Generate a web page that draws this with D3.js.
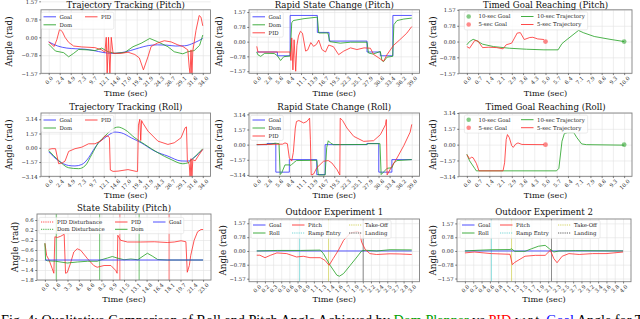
<!DOCTYPE html>
<html>
<head>
<meta charset="utf-8">
<script src="https://cdn.jsdelivr.net/npm/d3@7"></script>
<style>
	body { margin: 0; background: #fff; }
	svg { display: block; }
</style>
</head>
<body>
<svg id="fig" width="640" height="319"></svg>
<script>
/*
*    Roll / pitch comparison figure, 3x3 panels
*/

// x tick labels (matplotlib linspace ticks, already rounded)
var ticks34 = ["0.0","2.4","4.9","7.3","9.7","12.1","14.6","17.0","19.4","21.9","24.3","26.7","29.1","31.6","34.0"];
var ticks39 = ["0.0","2.8","5.6","8.4","11.1","13.9","16.7","19.5","22.3","25.1","27.9","30.6","33.4","36.2","39.0"];
var ticks10 = ["0.0","0.7","1.4","2.1","2.9","3.6","4.3","5.0","5.7","6.4","7.1","7.9","8.6","9.3","10.0"];
var ticks23 = ["0.0","1.6","3.3","4.9","6.6","8.2","9.9","11.5","13.1","14.8","16.4","18.1","19.7","21.4","23.0"];
var ticks3  = ["0.0","0.2","0.3","0.5","0.6","0.8","0.9","1.1","1.3","1.4","1.6","1.7","1.9","2.1","2.2","2.4","2.5","2.7","2.8","3.0"];
var ticks4  = ["0.0","0.2","0.4","0.6","0.8","1.1","1.3","1.5","1.7","1.9","2.1","2.3","2.5","2.7","2.9","3.2","3.4","3.6","3.8","4.0"];

// y tick values
var yHalfPi = [-1.57, -0.78, 0, 0.78, 1.57];
var yPi = [-3.14, -1.57, 0, 1.57, 3.14];
var yStab = [-1.8, -1.4, -1.0, -0.6, -0.2, 0.2, 0.6];

// Trajectory Tracking (Pitch)  [t, rad]
var ttPitchGoal = [[0,-0.2],[2,-0.38],[4,-0.47],[6,-0.5],[8,-0.52],[10,-0.58],[12,-0.66],[14,-0.7],[16,-0.67],[18,-0.58],[20,-0.46],[22,-0.36],[24,-0.33],[26,-0.34],[28,-0.38],[30,-0.37],[32,-0.25],[34,-0.05]];
var ttPitchDom = [[0,-0.3],[1.5,-0.6],[3.3,-0.67],[4.4,-0.85],[5.5,-0.7],[6.6,-0.53],[8.8,-0.55],[10.2,-0.58],[11.7,-0.47],[13.1,-0.63],[14.6,-0.7],[16.8,-0.66],[18.6,-0.41],[20.4,-0.26],[22.3,-0.05],[24,-0.19],[26.3,-0.41],[27.7,-0.63],[29.6,-0.72],[30.7,-0.63],[32.1,-0.58],[33.3,-0.35],[34,0.1]];
var ttPitchPid = [[0,-0.2],[1.2,-0.4],[1.8,-0.1],[2.4,0.35],[3.0,0.25],[3.6,0.0],[4.4,-0.22],[5.5,-0.38],[7.3,-0.42],[10.2,-0.45],[11.7,-0.55],[12.4,-0.65],[12.7,0.0],[12.9,-1.6],[13.2,0.0],[13.5,-1.6],[13.8,0.0],[14.2,-0.7],[16,-0.7],[17.5,-0.65],[19,-0.75],[20,-0.9],[20.9,-1.42],[21.9,-0.85],[22.6,-0.4],[24,-0.25],[25.5,-0.15],[27,-0.2],[28.5,-0.33],[29.6,-0.4],[30.7,-0.55],[31.0,-1.3],[31.2,-1.6],[31.4,-0.55],[31.6,-1.6],[31.8,-0.6],[32.5,0.3],[33.2,0.95],[33.6,0.88],[34,0.5]];

// Rapid State Change (Pitch)
var rscPitchGoal = [[0,-0.55],[5.2,-0.55],[5.2,-0.75],[8.4,-0.75],[8.4,1.39],[15.25,1.39],[15.25,0.49],[18.2,0.49],[18.2,0.03],[27.75,0.03],[27.75,-0.55],[31.1,-0.55],[31.1,-0.75],[34.25,-0.75],[34.25,1.39],[39,1.39]];
var rscPitchDom = [[0,-0.55],[0.3,-0.7],[1,-0.78],[2,-0.62],[4.4,-0.63],[5.2,-0.75],[6.0,-1.0],[6.8,-0.8],[8.4,-0.76],[8.8,1.0],[9.2,1.12],[11.9,1.22],[15.25,1.3],[15.6,0.46],[17.9,0.46],[18.4,0.0],[21,-0.08],[23.6,-0.03],[27.75,-0.03],[28.1,-0.6],[29.3,-0.66],[31.1,-0.52],[31.5,-1.0],[31.9,-1.06],[32.8,-0.82],[34.2,-0.78],[34.5,0.9],[35.3,1.12],[37,1.2],[39,1.25]];
var rscPitchPid = [[0,-0.25],[0.3,-0.55],[8.4,-0.55],[8.6,-1.0],[8.8,0.2],[9.1,-1.5],[9.4,0.1],[9.8,-1.57],[10.1,-0.2],[10.5,0.3],[11.0,0.55],[11.5,0.45],[12.3,-0.5],[12.8,-0.45],[13.6,-0.05],[14.3,-0.25],[15.0,-0.15],[15.6,0.08],[16.4,-0.42],[17.3,-0.55],[18.1,-0.18],[19.3,-0.27],[20.6,-0.69],[21.9,-0.5],[23.6,-0.33],[25.2,-0.42],[27,-0.33],[28.6,-0.35],[29.4,-0.68],[30.7,-0.86],[31.9,-1.04],[32.75,-0.7],[34.4,-0.2],[36,0.1],[37.75,0.45],[39,0.8]];

// Timed Goal Reaching (Pitch)
var tgPitch10 = [[0,-0.16],[0.17,0],[0.4,0.11],[0.6,0.05],[1.0,-0.13],[1.7,-0.25],[2.7,-0.33],[3.8,-0.38],[4.9,-0.41],[5.8,-0.41],[6.05,-0.1],[6.3,0.06],[7.0,0.49],[7.1,0.55],[7.4,0.44],[8.1,0.25],[9.1,0.11],[10,0]];
var tgPitch5 = [[0,-0.25],[0.17,-0.33],[0.5,0.05],[0.7,0.03],[1.0,-0.3],[1.4,-0.28],[1.9,-0.3],[2.3,-0.36],[2.5,-0.16],[2.85,-0.08],[3.2,0.42],[3.4,0.44],[3.65,0.1],[4.0,0.2],[4.2,0.21],[4.5,0.13],[4.9,0.1]];
var tgPitchGoals = [[10,0],[5,0]];

// Trajectory Tracking (Roll)
var ttRollGoal = [[0,-0.44],[2.2,-1.45],[4.4,-1.95],[5.8,-2.0],[7.3,-1.84],[8.8,-1.1],[9.8,-0.3],[10.9,0.5],[12.4,1.1],[13.5,1.5],[14.6,1.73],[16,1.65],[18.2,1.1],[20.4,0.55],[23.4,-0.37],[26.3,-0.92],[29.2,-1.45],[30.7,-1.47],[32,-1.1],[34,-0.18]];
var ttRollDom = [[0,-0.3],[2.2,-1.4],[4.4,-2.2],[6.6,-2.3],[8,-2.0],[9.5,-0.74],[10.9,0.5],[12.4,1.29],[14.6,2.2],[15.3,2.28],[16.8,2.0],[19,1.1],[21.2,0.37],[24.1,-0.55],[27,-1.29],[29.6,-1.76],[30.7,-1.66],[32,-1.1],[34,-0.1]];
var ttRollPid = [[0,-0.18],[0.7,-0.1],[1.5,-0.1],[2.2,-1.76],[3.0,-1.66],[3.6,-1.47],[4.4,-0.4],[5.8,-0.1],[7.3,0.07],[8.8,0.44],[10.2,0.44],[11.7,0.81],[12.4,1.29],[13.1,1.29],[13.4,1.1],[13.6,-2.45],[14.2,-2.6],[15.3,-2.57],[17.5,-2.4],[19.3,-2.6],[19.6,-2.6],[19.8,2.5],[20.1,3.14],[20.3,0.8],[20.5,3.0],[20.8,2.7],[21.9,1.84],[24.1,0.73],[26.3,0.37],[27.7,0.55],[29.2,1.1],[30.1,2.2],[30.4,2.3],[30.6,-1.47],[31.0,-1.8],[31.2,-3.2],[31.4,-1.2],[31.6,-3.2],[31.8,-1.3],[32.3,-1.45],[33,-0.9],[34,-0.18]];

// Rapid State Change (Roll)
var rscRollGoal = [[0,0],[2.6,0],[2.6,0.12],[4.8,0.12],[4.8,-2.85],[8.2,-2.85],[8.2,-1.55],[15.1,-1.55],[15.1,-3.1],[17.2,-3.1],[17.2,0],[27.7,0],[27.7,0.12],[30.7,0.12],[30.7,-2.85],[34,-2.85],[34,-1.55],[39,-1.55]];
var rscRollDom = [[0,0],[3.5,0.05],[4.6,0.15],[5.6,0.1],[5.9,-3.1],[6.3,-2.9],[7.1,-2.1],[8.2,-2.1],[8.6,-2.15],[9.2,-1.9],[10,-1.65],[15.1,-1.62],[15.5,-3.14],[17.2,-3.14],[17.6,-0.3],[18.0,0.4],[18.6,0.15],[19.3,0],[27.7,0.02],[28.1,0.1],[31.0,0.1],[31.3,-3.1],[32.0,-2.8],[32.8,-2.45],[34.0,-2.4],[34.5,-1.9],[35.3,-1.65],[39,-1.55]];
var rscRollPid = [[0,0],[6.5,0.05],[7.1,0.18],[7.7,0.1],[8.2,-1.38],[8.8,-1.7],[9.2,-0.8],[9.7,1.72],[10.0,2.4],[10.6,2.5],[11.8,2.25],[12.6,2.4],[13.3,2.75],[13.5,0.5],[13.7,-3.14],[14.3,-3.05],[15.1,-2.4],[16.8,-1.72],[18,-1.65],[18.9,-1.9],[20.2,-2.6],[20.9,-3.14],[21.0,2.75],[21.6,2.5],[22.7,1.72],[24.4,0.86],[26.9,0.34],[29.4,0.41],[31.1,1.03],[32.4,2.07],[32.6,2.6],[32.8,-3.14],[34,-2.24],[35.3,-1.38],[37,-0.1],[38.6,1.3],[39,2.1]];

// Timed Goal Reaching (Roll)
var tgRoll10 = [[0,-0.95],[0.17,-1.6],[0.5,-2.36],[0.6,-2.6],[5.7,-2.6],[5.85,-2.35],[6.05,0.34],[6.2,1.1],[6.4,1.19],[6.8,1.19],[7.0,0.68],[7.3,0.07],[7.6,0],[10,-0.05]];
var tgRoll5 = [[0,-1.0],[0.17,-1.4],[0.3,-1.25],[0.4,-1.3],[0.6,-1.85],[0.77,-2.6],[2.3,-2.6],[2.4,-1.8],[2.5,0.5],[2.58,1.0],[2.7,0.7],[2.85,-0.1],[2.95,-0.27],[3.1,0.05],[3.25,0.17],[3.5,0.02],[4.9,0]];
var tgRollGoals = [[10,0],[5,0]];

// State Stability (Pitch)
var ssGoal = [[0,-1.0],[23,-1.0]];
var ssDom = [[0,-0.33],[0.1,-1.0],[0.35,-1.03],[1.55,-1.05],[3.25,-1.12],[4.7,-1.08],[6.2,-1.05],[7.6,-1.05],[8.1,-1.0],[9.1,-0.92],[9.8,-0.86],[10.5,-0.92],[11.5,-0.99],[12.5,-0.96],[13.5,-0.99],[14.4,-0.82],[14.9,-0.73],[15.6,-0.84],[16.4,-0.98],[17.8,-1.0],[23,-1.0]];
var ssPid = [[0,-0.33],[0.25,-0.82],[0.6,-1.0],[1.07,-1.35],[1.3,-1.53],[1.45,-0.07],[1.8,-0.1],[2.3,-0.05],[2.8,0.03],[3.0,-1.53],[3.25,-1.5],[3.7,-1.15],[4.2,-0.68],[4.7,-0.55],[5.2,-0.61],[6.2,-0.95],[7.1,-1.22],[7.6,-1.29],[8.6,-1.22],[9.6,-1.22],[10.3,-1.42],[10.5,-1.53],[10.6,-0.01],[11.0,-0.21],[12.0,-0.28],[13.9,-0.28],[15.9,-0.27],[17.8,-0.3],[18.8,-0.28],[19.8,-0.23],[20.5,-0.27],[20.7,-1.49],[21.0,-1.22],[21.2,-0.82],[21.7,-0.21],[22.2,0.13],[22.7,0.22],[23,0.22]];
var ssPidDisturb = [10.9, 18.05];
var ssDomDisturb = [1.65, 7.96, 13.7];

// Outdoor Experiment 1
var od1Goal = [[0,0],[3,0]];
var od1Roll = [[0,0],[0.4,0.03],[0.85,0.03],[1.23,0.05],[1.29,-0.15],[1.42,-0.81],[1.55,-1.37],[1.6,-1.43],[1.68,-1.28],[1.81,-0.81],[1.94,-0.34],[2.03,0],[2.1,0.04],[2.32,0],[2.58,0.07],[3,0.06]];
var od1Pitch = [[0,-0.24],[0.06,-0.24],[0.16,-0.38],[0.26,-0.25],[0.39,-0.11],[0.58,-0.15],[0.77,-0.34],[0.9,-0.3],[1.03,-0.38],[1.23,-0.38],[1.32,-0.53],[1.4,-0.81],[1.48,-0.43],[1.58,0.04],[1.68,0.6],[1.81,1.01],[1.94,1.11],[1.99,1.05],[2.03,0.5],[2.1,0.08],[2.19,-0.15],[2.32,-0.2],[2.58,-0.16],[2.77,-0.17],[3,-0.2]];
var od1Events = [0.83, 1.39, 2.06];   // ramp entry, take-off, landing

// Outdoor Experiment 2
var od2Goal = [[0,0],[4,0]];
var od2Roll = [[0,0],[0.33,0.04],[0.67,0.07],[1.14,0.08],[1.18,0.12],[1.26,-0.02],[1.52,-0.02],[1.69,0.13],[1.86,0.27],[2.03,0.32],[2.14,0.12],[2.25,-0.06],[2.38,0],[2.8,0.02],[4,0]];
var od2Pitch = [[0,-0.11],[0.24,-0.06],[0.67,-0.15],[1.14,-0.19],[1.2,-0.78],[1.26,-0.65],[1.52,-0.3],[1.78,-0.25],[2.03,-0.25],[2.16,0.04],[2.25,-0.44],[2.33,-0.67],[2.46,-0.3],[2.63,-0.15],[2.89,-0.2],[3.23,-0.15],[3.57,-0.15],[4,-0.06]];
var od2Events = [0.67, 1.18, 2.19];

var BLUE = "#3030ff", GREEN = "#22a022", RED = "#ff2a2a";
var CYAN = "#5fd0d0", YELLOW = "#cccc4a", BLACK = "#444";
var FONT = "DejaVu Serif";

var svg = d3.select("#fig");
var clipId = 0;

function styleGrid(sel) {
	sel.select(".domain").remove();
	sel.selectAll("line").attr("stroke", "#e3e3e3").attr("stroke-width", 0.6);
}

function drawPanel(p) {
	var x0 = p.box[0], y0 = p.box[1];
	var w = p.box[2] - p.box[0], h = p.box[3] - p.box[1];
	var xMax = +p.xTicks[p.xTicks.length - 1];
	var xVals = p.xTicks.map(function(d, i){ return i * xMax / (p.xTicks.length - 1); });

	var x = d3.scaleLinear().domain([-0.05 * xMax, 1.05 * xMax]).range([0, w]);
	var y = d3.scaleLinear().domain(p.yDomain).range([h, 0]);

	var g = svg.append("g")
		.attr("transform", "translate(" + x0 + "," + y0 + ")");

	// grid
	g.append("g")
		.attr("transform", "translate(0," + h + ")")
		.call(d3.axisBottom(x).tickValues(xVals).tickSize(-h).tickFormat(""))
		.call(styleGrid);
	g.append("g")
		.call(d3.axisLeft(y).tickValues(p.yTicks).tickSize(-w).tickFormat(""))
		.call(styleGrid);

	clipId++;
	g.append("clipPath").attr("id", "clip" + clipId)
		.append("rect").attr("width", w).attr("height", h);
	var plot = g.append("g").attr("clip-path", "url(#clip" + clipId + ")");

	// event / disturbance lines
	(p.vlines || []).forEach(function(v){
		plot.append("line")
			.attr("x1", x(v.t)).attr("x2", x(v.t))
			.attr("y1", 0).attr("y2", h)
			.attr("stroke", v.color)
			.attr("stroke-width", v.width || 1)
			.attr("stroke-opacity", v.opacity || 0.75);
	});

	var line = d3.line()
		.x(function(d){ return x(d[0]); })
		.y(function(d){ return y(d[1]); });

	p.series.forEach(function(s){
		line.curve(s.smooth ? d3.curveMonotoneX : d3.curveLinear);
		plot.append("path")
			.datum(s.data)
			.attr("d", line)
			.attr("fill", "none")
			.attr("stroke", s.color)
			.attr("stroke-width", 1)
			.attr("stroke-opacity", 0.8)
			.attr("stroke-linejoin", "round");
	});

	(p.dots || []).forEach(function(dt){
		g.append("circle")
			.attr("cx", x(dt.d[0])).attr("cy", y(dt.d[1]))
			.attr("r", 2.4)
			.attr("fill", dt.color)
			.attr("fill-opacity", 0.55);
	});

	// frame
	g.append("rect")
		.attr("width", w).attr("height", h)
		.attr("fill", "none")
		.attr("stroke", "#808080")
		.attr("stroke-width", 0.9);

	// x axis
	var fs = 5.3;
	var xAxis = g.append("g")
		.attr("transform", "translate(0," + h + ")")
		.call(d3.axisBottom(x).tickValues(xVals).tickSize(1.8)
			.tickFormat(function(d, i){ return p.xTicks[i]; }));
	xAxis.select(".domain").remove();
	xAxis.selectAll("line").attr("stroke", "#333").attr("stroke-width", 0.6);
	xAxis.selectAll("text")
		.attr("font-family", FONT)
		.attr("font-size", fs)
		.attr("fill", "#222")
		.attr("text-anchor", "end")
		.attr("y", 0)
		.attr("dy", 0)
		.attr("transform", function(){
			var L = this.getComputedTextLength();
			return "translate(" + (0.354 * (L + 0.7 * fs)) + "," + (2.6 + 0.53 * fs) + ") rotate(-45)";
		});

	// y axis
	var yAxis = g.append("g")
		.call(d3.axisLeft(y).tickValues(p.yTicks).tickSize(1.8).tickPadding(1.6)
			.tickFormat(d3.format(p.yFormat)));
	yAxis.select(".domain").remove();
	yAxis.selectAll("line").attr("stroke", "#333").attr("stroke-width", 0.6);
	yAxis.selectAll("text")
		.attr("font-family", FONT)
		.attr("font-size", fs)
		.attr("fill", "#222");

	// labels
	svg.append("text")
		.attr("x", x0 + w / 2)
		.attr("y", p.titleY)
		.attr("text-anchor", "middle")
		.attr("font-family", FONT)
		.attr("font-size", 8.6)
		.attr("fill", "#111")
		.text(p.title);

	svg.append("text")
		.attr("x", x0 + w / 2)
		.attr("y", p.xLabelY)
		.attr("text-anchor", "middle")
		.attr("font-family", FONT)
		.attr("font-size", 8.2)
		.attr("fill", "#111")
		.text("Time (sec)");

	svg.append("text")
		.attr("transform", "translate(" + p.yLabelX + "," + (y0 + h / 2) + ") rotate(-90)")
		.attr("text-anchor", "middle")
		.attr("font-family", FONT)
		.attr("font-size", 8.8)
		.attr("fill", "#111")
		.text("Angle (rad)");

	// legend
	var lg = p.legend;
	var leg = g.append("g").attr("transform", "translate(" + lg.x + "," + lg.y + ")");
	var frame = leg.append("rect");
	var items = leg.append("g");
	var gap = lg.rowGap || 8;
	lg.items.forEach(function(it, i){
		var cx = lg.cols[Math.floor(i / lg.rows)];
		var cy = (i % lg.rows) * gap;
		if (it.type == "dot") {
			items.append("circle")
				.attr("cx", cx + 6.2).attr("cy", cy)
				.attr("r", 2.3)
				.attr("fill", it.color)
				.attr("fill-opacity", 0.55);
		} else {
			items.append("line")
				.attr("x1", cx).attr("x2", cx + 12.5)
				.attr("y1", cy).attr("y2", cy)
				.attr("stroke", it.color)
				.attr("stroke-width", 1)
				.attr("stroke-opacity", 0.85)
				.attr("stroke-dasharray", it.type == "dotted" ? "1.2,1" : null);
		}
		items.append("text")
			.attr("x", cx + 16)
			.attr("y", cy)
			.attr("dy", "0.35em")
			.attr("font-family", FONT)
			.attr("font-size", 5.4)
			.attr("fill", "#222")
			.text(it.label);
	});
	var bb = items.node().getBBox();
	frame
		.attr("x", bb.x - 2).attr("y", bb.y - 1.5)
		.attr("width", bb.width + 4).attr("height", bb.height + 3)
		.attr("rx", 1.5)
		.attr("fill", "#fff")
		.attr("fill-opacity", 0.8)
		.attr("stroke", "#d8d8d8")
		.attr("stroke-width", 0.5);
}

var legGDP = [
	{label: "Goal", color: BLUE, type: "line"},
	{label: "Dom", color: GREEN, type: "line"},
	{label: "PID", color: RED, type: "line"}
];
var legTimed = [
	{label: "10-sec Goal", color: GREEN, type: "dot"},
	{label: "5-sec Goal", color: RED, type: "dot"},
	{label: "10-sec Trajectory", color: GREEN, type: "line"},
	{label: "5-sec Trajectory", color: RED, type: "line"}
];
var legOutdoor = [
	{label: "Goal", color: BLUE, type: "line"},
	{label: "Roll", color: GREEN, type: "line"},
	{label: "Pitch", color: RED, type: "line"},
	{label: "Ramp Entry", color: CYAN, type: "dotted"},
	{label: "Take-Off", color: YELLOW, type: "dotted"},
	{label: "Landing", color: BLACK, type: "dotted"}
];

// row 1
drawPanel({
	box: [41, 9.8, 210.5, 73.3], xTicks: ticks34, yDomain: [-1.57, 1.2], yTicks: yHalfPi, yFormat: ".2f",
	title: "Trajectory Tracking (Pitch)", titleY: 7.6, xLabelY: 95.5, yLabelX: 11.5,
	series: [
		{data: ttPitchGoal, color: BLUE, smooth: true},
		{data: ttPitchDom, color: GREEN},
		{data: ttPitchPid, color: RED}
	],
	legend: {x: 2.5, y: 7, rows: 2, cols: [0, 41.5], items: legGDP}
});
drawPanel({
	box: [249, 9.8, 419.5, 73.3], xTicks: ticks39, yDomain: [-1.68, 1.69], yTicks: yHalfPi, yFormat: ".2f",
	title: "Rapid State Change (Pitch)", titleY: 7.6, xLabelY: 95.5, yLabelX: 222,
	series: [
		{data: rscPitchGoal, color: BLUE},
		{data: rscPitchDom, color: GREEN},
		{data: rscPitchPid, color: RED}
	],
	legend: {x: 3.5, y: 7, rows: 3, cols: [0], items: legGDP}
});
drawPanel({
	box: [459, 9.8, 632, 73.3], xTicks: ticks10, yDomain: [-1.57, 1.57], yTicks: yHalfPi, yFormat: ".2f",
	title: "Timed Goal Reaching (Pitch)", titleY: 7.6, xLabelY: 95.5, yLabelX: 436,
	series: [
		{data: tgPitch10, color: GREEN},
		{data: tgPitch5, color: RED}
	],
	dots: [{d: tgPitchGoals[0], color: GREEN}, {d: tgPitchGoals[1], color: RED}],
	legend: {x: 3.5, y: 6.7, rows: 2, cols: [0, 58.5], items: legTimed}
});

// row 2
drawPanel({
	box: [41, 113, 210.5, 176.3], xTicks: ticks34, yDomain: [-3.14, 3.83], yTicks: yPi, yFormat: ".2f",
	title: "Trajectory Tracking (Roll)", titleY: 109.5, xLabelY: 197.5, yLabelX: 11.5,
	series: [
		{data: ttRollGoal, color: BLUE, smooth: true},
		{data: ttRollDom, color: GREEN, smooth: true},
		{data: ttRollPid, color: RED}
	],
	legend: {x: 2.5, y: 7, rows: 2, cols: [0, 41.5], items: legGDP}
});
drawPanel({
	box: [249, 113, 419.5, 176.3], xTicks: ticks39, yDomain: [-3.28, 3.28], yTicks: yPi, yFormat: ".2f",
	title: "Rapid State Change (Roll)", titleY: 109.5, xLabelY: 197.5, yLabelX: 222,
	series: [
		{data: rscRollGoal, color: BLUE},
		{data: rscRollDom, color: GREEN},
		{data: rscRollPid, color: RED}
	],
	legend: {x: 3.5, y: 7, rows: 3, cols: [0], items: legGDP}
});
drawPanel({
	box: [459, 113, 632, 176.3], xTicks: ticks10, yDomain: [-3.14, 3.14], yTicks: yPi, yFormat: ".2f",
	title: "Timed Goal Reaching (Roll)", titleY: 109.5, xLabelY: 197.5, yLabelX: 436,
	series: [
		{data: tgRoll10, color: GREEN},
		{data: tgRoll5, color: RED}
	],
	dots: [{d: tgRollGoals[0], color: GREEN}, {d: tgRollGoals[1], color: RED}],
	legend: {x: 3.5, y: 6.7, rows: 2, cols: [0, 58.5], items: legTimed}
});

// row 3
drawPanel({
	box: [37, 214, 211, 280], xTicks: ticks23, yDomain: [-1.8, 0.84], yTicks: yStab, yFormat: ".1f",
	title: "State Stability (Pitch)", titleY: 210.5, xLabelY: 302, yLabelX: 18,
	vlines: ssPidDisturb.map(function(t){ return {t: t, color: "#ff4a4a"}; })
		.concat(ssDomDisturb.map(function(t){ return {t: t, color: "#3fae3f"}; })),
	series: [
		{data: ssPid, color: RED},
		{data: ssDom, color: GREEN},
		{data: ssGoal, color: BLUE}
	],
	legend: {x: 4, y: 8, rows: 2, rowGap: 7.3, cols: [0, 74, 112], items: [
		{label: "PID Disturbance", color: RED, type: "dotted"},
		{label: "Dom Disturbance", color: GREEN, type: "dotted"},
		{label: "PID", color: RED, type: "line"},
		{label: "Dom", color: GREEN, type: "line"},
		{label: "Goal", color: BLUE, type: "line"}
	]}
});
drawPanel({
	box: [249, 219, 419.5, 281.7], xTicks: ticks3, yDomain: [-1.74, 1.81], yTicks: yHalfPi, yFormat: ".2f",
	title: "Outdoor Experiment 1", titleY: 215, xLabelY: 302, yLabelX: 226,
	vlines: [
		{t: od1Events[0], color: CYAN, opacity: 0.7},
		{t: od1Events[1], color: YELLOW, opacity: 0.7},
		{t: od1Events[2], color: BLACK, opacity: 0.6}
	],
	series: [
		{data: od1Goal, color: BLUE},
		{data: od1Roll, color: GREEN},
		{data: od1Pitch, color: RED}
	],
	legend: {x: 4, y: 6, rows: 2, cols: [0, 39, 96], items: legOutdoor}
});
drawPanel({
	box: [457, 219, 631, 281.7], xTicks: ticks4, yDomain: [-1.75, 1.82], yTicks: yHalfPi, yFormat: ".2f",
	title: "Outdoor Experiment 2", titleY: 215, xLabelY: 302, yLabelX: 436,
	vlines: [
		{t: od2Events[0], color: CYAN, opacity: 0.7},
		{t: od2Events[1], color: YELLOW, opacity: 0.7},
		{t: od2Events[2], color: BLACK, opacity: 0.6}
	],
	series: [
		{data: od2Goal, color: BLUE},
		{data: od2Roll, color: GREEN},
		{data: od2Pitch, color: RED}
	],
	legend: {x: 5, y: 6, rows: 2, cols: [0, 38, 96], items: legOutdoor}
});

// caption, cut by the bottom edge
var cap = svg.append("text")
	.attr("x", 1)
	.attr("y", 324.5)
	.attr("font-family", "Liberation Serif")
	.attr("font-size", 14.2)
	.attr("fill", "#000");
cap.append("tspan").text("Fig. 4: Qualitative Comparison of Roll and Pitch Angle Achieved by ");
cap.append("tspan").attr("fill", "#00a000").text("Dom Planner");
cap.append("tspan").text(" vs ");
cap.append("tspan").attr("fill", "#ff0000").text("PID");
cap.append("tspan").text(" w.r.t. ");
cap.append("tspan").attr("fill", "#0000ff").text("Goal");
cap.append("tspan").text(" Angle for Trajectory Tracking");
</script>
</body>
</html>
